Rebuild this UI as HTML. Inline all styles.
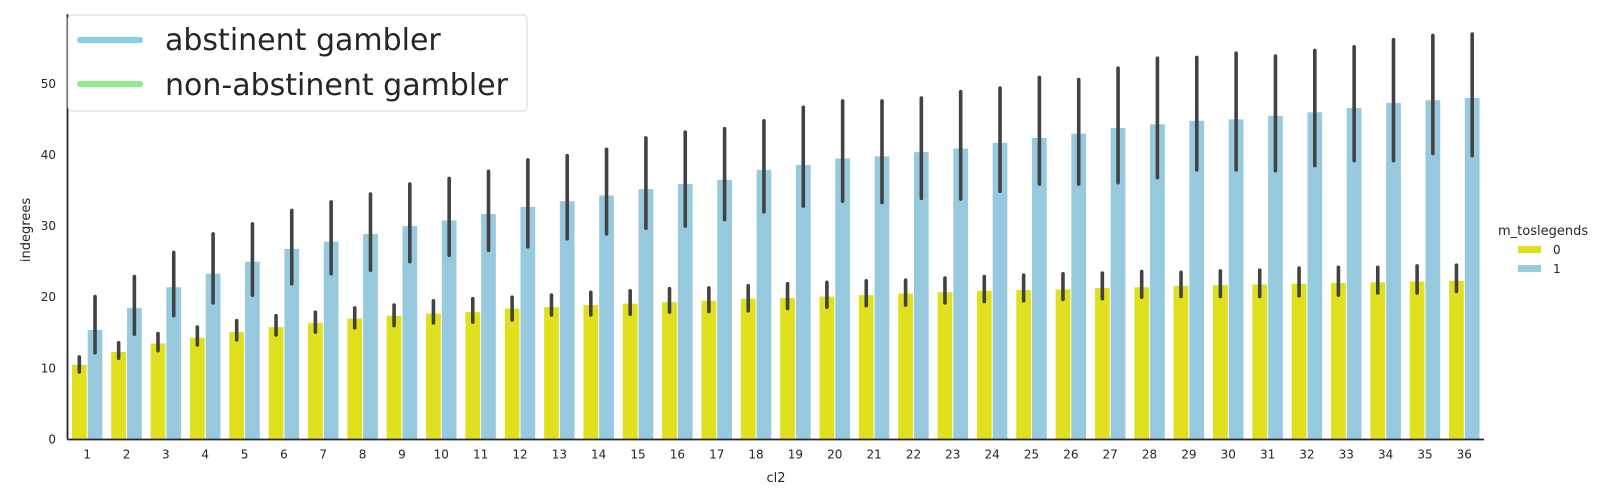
<!DOCTYPE html>
<html><head><meta charset="utf-8"><style>
body{margin:0;background:#fff;}
svg{display:block;font-family:"DejaVu Sans","Liberation Sans",sans-serif;}
</style></head><body>
<svg id="chart" width="1602" height="500" viewBox="0 0 1602 500" xmlns="http://www.w3.org/2000/svg">
<g id="marks"></g>
<g id="axes"></g>
</svg>
<script>
const categories = [1,2,3,4,5,6,7,8,9,10,11,12,13,14,15,16,17,18,19,20,21,22,23,24,25,26,27,28,29,30,31,32,33,34,35,36];
const yellowVals = [10.5,12.3,13.5,14.3,15.1,15.8,16.4,17.0,17.4,17.7,17.9,18.4,18.6,18.9,19.1,19.3,19.5,19.8,19.9,20.1,20.3,20.5,20.7,20.9,21.0,21.1,21.3,21.4,21.6,21.7,21.8,21.9,22.0,22.1,22.2,22.3];
const yellowHi = [11.6,13.6,14.9,15.8,16.7,17.4,17.9,18.5,18.9,19.5,19.8,20.0,20.3,20.7,20.9,21.2,21.3,21.6,21.9,22.1,22.3,22.4,22.7,22.9,23.1,23.3,23.4,23.6,23.5,23.7,23.8,24.1,24.2,24.2,24.4,24.5];
const yellowLo = [9.5,11.4,12.5,13.3,14.0,14.7,15.1,15.7,16.0,16.4,16.5,16.8,17.5,17.5,17.6,17.9,18.0,18.1,18.4,18.6,18.8,18.9,19.2,19.4,19.5,19.7,19.8,20.0,20.1,20.1,20.1,20.2,20.3,20.6,20.6,20.8];
const blueVals = [15.4,18.5,21.4,23.3,25.0,26.8,27.8,28.9,30.0,30.8,31.7,32.7,33.5,34.3,35.2,35.9,36.5,37.9,38.6,39.5,39.8,40.4,40.9,41.7,42.4,43.0,43.8,44.3,44.8,45.0,45.5,46.0,46.6,47.3,47.7,48.0];
const blueHi = [20.1,22.9,26.3,28.9,30.3,32.2,33.4,34.5,35.9,36.7,37.7,39.3,39.9,40.8,42.4,43.2,43.7,44.8,46.7,47.6,47.6,48.0,48.9,49.4,50.9,50.6,52.2,53.6,53.7,54.3,53.9,54.7,55.2,56.2,56.8,57.0];
const blueLo = [12.2,14.8,17.4,19.2,20.3,21.9,23.3,23.8,25.0,25.9,26.6,27.1,28.2,28.9,29.7,30.0,30.9,32.0,32.8,33.5,33.3,33.9,33.8,34.9,35.9,35.9,36.1,36.8,37.9,37.9,37.8,38.5,39.2,39.2,40.2,39.9];
const yTicks = [0,10,20,30,40,50];

const NS="http://www.w3.org/2000/svg";
const L=67.5,R=1484,T=14.3,B=439.5,YMAX=59.77;
const band=(R-L)/categories.length;
const xc=i=>L+band*(i+0.5);
const y=v=>B-(v/YMAX)*(B-T);
const marks=document.getElementById('marks'),axes=document.getElementById('axes');
function mk(tag,attrs,parent){const e=document.createElementNS(NS,tag);for(const k in attrs)e.setAttribute(k,attrs[k]);parent.appendChild(e);return e;}
const bw=band*0.8/2;
categories.forEach((c,i)=>{
  const cx=xc(i);
  const b1=mk('rect',{x:cx-bw+0.5,y:y(yellowVals[i]),width:bw-1,height:B-y(yellowVals[i]),fill:'#e0e01f'},marks);
  
  
  const b2=mk('rect',{x:cx+0.5,y:y(blueVals[i]),width:bw-1,height:B-y(blueVals[i]),fill:'#98cadf'},marks);
  
  
  const e1=mk('line',{x1:cx-bw/2,x2:cx-bw/2,y1:y(yellowHi[i]),y2:y(yellowLo[i]),stroke:'#424242','stroke-width':3.6,'stroke-linecap':'round'},marks);
  
  
  const e2=mk('line',{x1:cx+bw/2,x2:cx+bw/2,y1:y(blueHi[i]),y2:y(blueLo[i]),stroke:'#424242','stroke-width':3.6,'stroke-linecap':'round'},marks);
  
  
  const t=mk('text',{x:cx,y:B+19,'text-anchor':'middle','font-size':12,fill:'#262626'},axes);
  t.textContent=c;
  
  
});
yTicks.forEach(v=>{
  const t=mk('text',{x:56,y:y(v)+4,'text-anchor':'end','font-size':12,fill:'#262626'},axes);
  t.textContent=v;
  
  
});
const sp1=mk('line',{x1:L,x2:L,y1:T,y2:B,stroke:'#262626','stroke-width':1.8},axes);


const sp2=mk('line',{x1:L,x2:R,y1:B,y2:B,stroke:'#262626','stroke-width':1.8},axes);


</script>
<svg style="position:absolute;left:0;top:0" width="1602" height="500" xmlns="http://www.w3.org/2000/svg" font-family="DejaVu Sans, Liberation Sans, sans-serif">
<text x="776" y="482" text-anchor="middle" font-size="13" fill="#262626">cl2</text>
<text transform="translate(30,230) rotate(-90)" text-anchor="middle" font-size="13" fill="#262626">indegrees</text>
<g>
<rect x="68" y="15" width="459" height="96" rx="4" fill="#fff" fill-opacity="0.85" stroke="#d6d6d6"/>
<g>
<line x1="80" x2="140" y1="40" y2="40" stroke="#87ceeb" stroke-width="6" stroke-linecap="round"/>
<text x="165" y="50" font-size="30" fill="#262626">abstinent gambler</text></g>
<g>
<line x1="80" x2="140" y1="84" y2="84" stroke="#90ee90" stroke-width="6" stroke-linecap="round"/>
<text x="165" y="95" font-size="30" fill="#262626">non-abstinent gambler</text></g>
</g>
<g>
<text x="1498" y="235" font-size="13" fill="#262626">m_toslegends</text>
<g><rect x="1518" y="246" width="23" height="7" fill="#e0e01f"/><text x="1553" y="254" font-size="12" fill="#262626">0</text></g>
<g><rect x="1518" y="265" width="23" height="7" fill="#98cadf"/><text x="1553" y="273" font-size="12" fill="#262626">1</text></g>
</g>
</svg>
</body></html>
